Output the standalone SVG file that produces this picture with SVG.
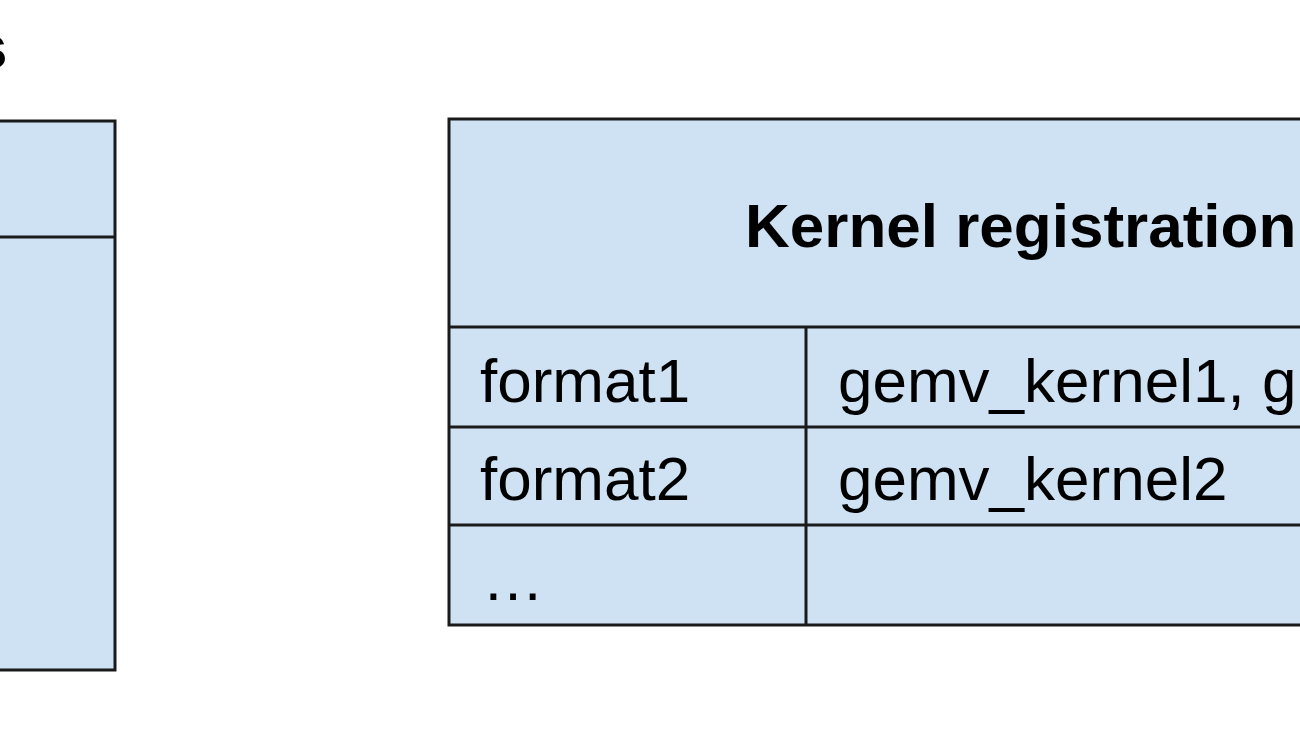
<svg xmlns="http://www.w3.org/2000/svg" width="1300" height="731" viewBox="0 0 1300 731">
<style>
.box{fill:#cfe2f3;stroke:#1a1a1a;stroke-width:3}
.ln{stroke:#1a1a1a;stroke-width:3}
.t{font-family:"Liberation Sans",Arial,sans-serif;font-size:62px;fill:#000}
.b{font-weight:bold}
</style>
<rect width="1300" height="731" fill="#fff"/>
<text class="t b" x="-27" y="68">s</text>
<g id="left-table">
<rect class="box" x="-10" y="121" width="125" height="549"/>
<line class="ln" x1="-10" y1="237" x2="115" y2="237"/>
</g>
<g id="kernel-table">
<rect class="box" x="449" y="119" width="900" height="506"/>
<line class="ln" x1="449" y1="327" x2="1310" y2="327"/>
<line class="ln" x1="449" y1="427" x2="1310" y2="427"/>
<line class="ln" x1="449" y1="525" x2="1310" y2="525"/>
<line class="ln" x1="806" y1="327" x2="806" y2="625"/>
<text class="t b" x="745" y="247">Kernel registration</text>
<text class="t" x="480" y="402">format1</text>
<text class="t" x="838" y="402">gemv_kernel1, g</text>
<text class="t" x="480" y="500">format2</text>
<text class="t" x="838" y="500">gemv_kernel2</text>
<text class="t" x="482" y="600">…</text>
</g>
<g id="connectors"/>
</svg>
